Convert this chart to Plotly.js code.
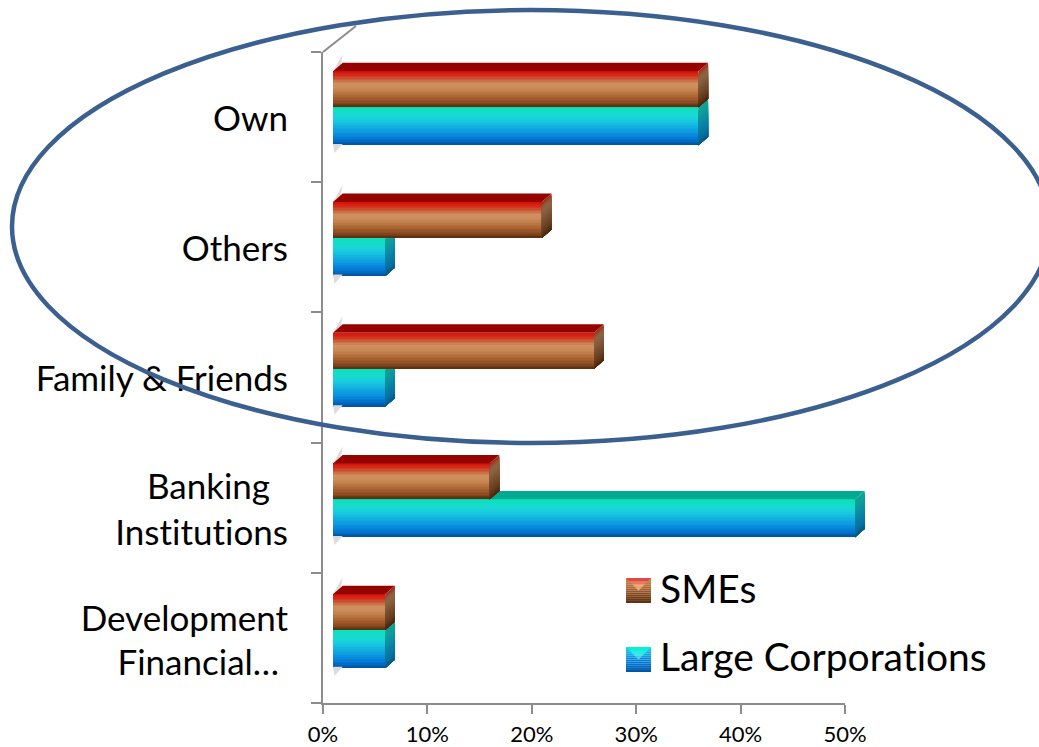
<!DOCTYPE html>
<html>
<head>
<meta charset="utf-8">
<script src="https://cdn.plot.ly/plotly-3.0.1.min.js"></script>
<style>html,body{margin:0;padding:0;background:#fff}#c{width:1039px;height:747px}
svg text{font-variant-ligatures:none;font-feature-settings:"liga" 0}</style>
</head>
<body>
<div id="c"></div>
<script>
// ---- data ----
const categories = ["Own", "Others", "Family & Friends", "Banking Institutions", "Development Financial…"];
const smes = [35, 20, 25, 15, 5];
const largeCorporations = [35, 5, 5, 50, 5];
const xTicks = [0, 10, 20, 30, 40, 50];
const yLabelText = ["Own", "Others", "Family & Friends", "Banking\u00a0\u00a0", "Institutions", "Development", "Financial…\u00a0"];
const yLabelPos = [0.01, 1.01, 2.01, 2.84, 3.19, 3.85, 4.19];
const yBoundaries = [-0.5, 0.5, 1.5, 2.5, 3.5, 4.5];

// ---- style ----
const W = 1039, H = 747, L = 323, R = 900, AXIS_END = 845, T = 52, B = 703;
const pw = R - L, ph = B - T;
const font = "Lato, Carlito, Calibri, 'Open Sans', sans-serif";
const smeFrontStops = ["#d8160c","#d4301c","#c9603c","#cf9060","#cc8c5c","#c07f4c","#b06c38","#a05a2a","#8a4a20","#5e3212"];
const largeFrontStops = ["#0ce0bc","#14dcc8","#18d8d4","#18cce0","#14bce0","#10a8e0","#0c98e0","#0884dc","#0070cc","#0058a4"];
const smeSideStops = ["#a8281a","#8a5a38","#8c6444","#866040","#805838","#785030","#704828","#684020","#5c3418","#4a2810"];
const largeSideStops = ["#0ca494","#10a098","#109c9c","#0c94a0","#0c8ca4","#0884a4","#087ca4","#0874a4","#066a9c","#055a88"];
const smeTop = "#950300", largeTop = "#00aa90";

function ramp(stops, n) {
  const hex = c => [1, 3, 5].map(i => parseInt(c.substr(i, 2), 16));
  const out = [];
  for (let k = 0; k < n; k++) {
    const t = k / (n - 1) * (stops.length - 1), a = Math.floor(t), b = Math.min(a + 1, stops.length - 1), f = t - a;
    const A = hex(stops[a]), B2 = hex(stops[b]);
    out.push("rgb(" + A.map((v, i) => Math.round(v + (B2[i] - v) * f)).join(",") + ")");
  }
  return out;
}

// bar geometry in axis units
const pxPerPct = (AXIS_END - L) / 50;
const smeH = 0.275, largeH = 0.29, dx = 0.93, dy = 0.065, nb = 24;
const barZero = 10 / pxPerPct;
const xr2 = [-barZero, (R - L) / pxPerPct - barZero];
const yr2 = [4.558, -0.423];

function bandTraces(vals, startOffset, barH, front, side, top, xa, ya, name, rank) {
  const out = [];
  const idx = vals.map((_, i) => i);
  const bh = barH / nb;
  // top face
  const tx = [], ty = [];
  vals.forEach((v, i) => {
    const y = i + startOffset;
    tx.push(0, v, v + dx, dx, 0, null);
    ty.push(y, y, y - dy, y - dy, y, null);
  });
  out.push({type:"scatter", mode:"lines", x:tx, y:ty, xaxis:xa, yaxis:ya, fill:"toself", fillcolor:top,
            line:{width:0, color:top}, hoverinfo:"skip", showlegend:false});
  // each band runs to the bar's foot and is painted over by the next, so no seams show
  for (let b = 0; b < nb; b++) {
    const off = startOffset + b * bh, rest = barH - b * bh;
    out.push({type:"bar", orientation:"h", x:vals, y:idx, base:0, width:rest, offset:off,
              xaxis:xa, yaxis:ya, marker:{color:front[b], line:{width:0}},
              showlegend:false, hoverinfo:"skip"});
    const sx = [], sy = [];
    vals.forEach((v, i) => {
      const y0 = i + off, y1 = i + startOffset + barH;
      sx.push(v, v + dx, v + dx, v, v, null);
      sy.push(y0, y0 - dy, y1 - dy, y1, y0, null);
    });
    out.push({type:"scatter", mode:"lines", x:sx, y:sy, xaxis:xa, yaxis:ya, fill:"toself", fillcolor:side[b],
              line:{width:0, color:side[b]}, hoverinfo:"skip", showlegend:false});
  }
  // transparent carrier of the legend entry: the bevelled key is drawn separately
  out.push({type:"bar", orientation:"h", x:vals, y:idx, base:0, width:barH, offset:startOffset,
            xaxis:xa, yaxis:ya, marker:{color:"rgba(0,0,0,0)", line:{width:0}},
            name:name, legendgroup:name, legendrank:rank, showlegend:true, hoverinfo:"x+name"});
  return out;
}

// soft wall shadows at the foot of each bar group
const shX = [], shY = [];
categories.forEach((_, i) => {
  const a = i - smeH, b = i + largeH;
  shX.push(0, 0.2, dx, dx * 0.75, 0, null, 0, dx, 0.15, 0, null);
  shY.push(a, a - 0.03, a - 0.13, a - 0.03, a, null, b - 0.01, b - 0.01, b + 0.06, b - 0.01, null);
});
const shadow = {type:"scatter", mode:"lines", x:shX, y:shY, xaxis:"x2", yaxis:"y2", fill:"toself",
                fillcolor:"#dcdcdc", line:{width:0, color:"#dcdcdc"}, hoverinfo:"skip", showlegend:false};

const axisAnchor = {type:"bar", orientation:"h", x:[0,0,0,0,0], y:[0,1,2,3,4], xaxis:"x", yaxis:"y",
                    marker:{color:"rgba(0,0,0,0)"}, showlegend:false, hoverinfo:"skip"};

const data = [axisAnchor, shadow]
  .concat(bandTraces(largeCorporations, 0, largeH, ramp(largeFrontStops, nb), ramp(largeSideStops, nb), largeTop, "x2", "y2", "Large Corporations", 2))
  .concat(bandTraces(smes, -smeH, smeH, ramp(smeFrontStops, nb), ramp(smeSideStops, nb), smeTop, "x3", "y3", "SMEs", 1));

// ---- pixel helpers for decorations that sit outside the axes ----
const px = v => (v - L) / pw;
const py = v => (B - v) / ph;
const shapes = [];
// the hand-drawn ellipse
shapes.push({type:"circle", xref:"paper", yref:"paper", layer:"above",
             x0:px(12), x1:px(1050), y0:py(443), y1:py(10), line:{color:"#3b5f8e", width:4.5}, fillcolor:"rgba(0,0,0,0)"});
// chart wall edge
shapes.push({type:"line", xref:"paper", yref:"paper", layer:"below", x0:px(323), y0:py(52), x1:px(356), y1:py(26),
             line:{color:"#8c8c8c", width:2}});
// bevelled legend keys
function swatch(x0, y0, body, bevel) {
  const s = 25, n = body.length;
  body.forEach((c, i) => shapes.push({type:"rect", xref:"paper", yref:"paper", layer:"above",
    x0:px(x0), x1:px(x0 + s), y0:py(y0 + s * (i + 1) / n), y1:py(y0 + s * i / n), fillcolor:c, line:{width:0}}));
  bevel.forEach((c, i) => {
    const a = i / bevel.length, b = (i + 1) / bevel.length;
    const p = (X, Y) => px(X) + " " + py(Y);
    shapes.push({type:"path", xref:"paper", yref:"paper", layer:"above", fillcolor:c, line:{width:0},
      path:"M" + [p(x0 + a * s / 2, y0 + a * s / 2), p(x0 + s - a * s / 2, y0 + a * s / 2),
                  p(x0 + s - b * s / 2, y0 + b * s / 2), p(x0 + b * s / 2, y0 + b * s / 2)].join("L") + "Z"});
  });
}
swatch(626, 578, ramp(["#c88850","#b87440","#a05a2a","#7a4018","#5e3212"], 12), ["#e04848","#e87a60","#f0a878","#eab888"]);
swatch(626, 647, ramp(["#1cc8ea","#14ace4","#0884dc","#0070cc","#0058a4"], 12), ["#08f0d8","#20f0e0","#40e8e8","#50dcec"]);

const layout = {
  width: W, height: H,
  margin: {l: L, r: W - R, t: T, b: H - B, pad: 0},
  paper_bgcolor: "#ffffff", plot_bgcolor: "rgba(0,0,0,0)",
  barmode: "overlay", bargap: 0,
  font: {family: font, color: "#000000"},
  showlegend: true,
  legend: {x: px(620), y: py(556), xanchor: "left", yanchor: "top", bgcolor: "rgba(0,0,0,0)",
           font: {size: 39, family: font, color: "#000"}, tracegroupgap: 14, traceorder: "grouped", itemclick: false, itemdoubleclick: false},
  xaxis: {domain: [0, (AXIS_END - L) / pw], range: [0, 50], tickmode: "array", tickvals: xTicks, ticktext: xTicks.map(v => v + "%"),
          showgrid: false, zeroline: false, showline: true, linecolor: "#8c8c8c", linewidth: 2,
          ticks: "outside", ticklen: 9, tickwidth: 2, tickcolor: "#8c8c8c", ticklabelstandoff: 2, tickfont: {size: 22, family: font, color: "#000"}},
  yaxis: {range: [4.5, -0.5], tickmode: "array", tickvals: yLabelPos, ticktext: yLabelText,
          showgrid: false, zeroline: false, showline: true, linecolor: "#8c8c8c", linewidth: 2,
          ticks: "", ticklabelstandoff: 26, tickfont: {size: 35, family: font, color: "#000"},
          minor: {tickmode: "array", tickvals: yBoundaries, ticks: "outside", ticklen: 10, tickwidth: 2, tickcolor: "#8c8c8c", showgrid: false}},
  xaxis2: {domain: [0, 1], range: xr2, visible: false, anchor: "y2"},
  yaxis2: {domain: [0, 1], range: yr2, visible: false, anchor: "x2"},
  xaxis3: {domain: [0, 1], range: xr2, visible: false, anchor: "y3"},
  yaxis3: {domain: [0, 1], range: yr2, visible: false, anchor: "x3"},
  shapes: shapes
};
Plotly.newPlot("c", data, layout, {displayModeBar: false, responsive: false});
</script>
</body>
</html>
